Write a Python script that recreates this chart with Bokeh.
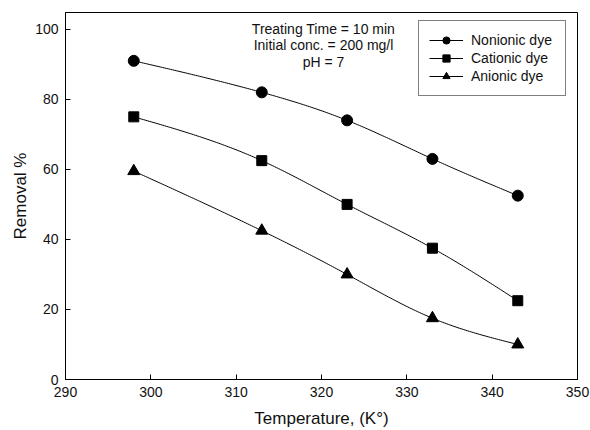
import numpy as np
from bokeh.plotting import figure
from bokeh.models import Legend, LegendItem, Label, Range1d, FixedTicker
from bokeh.embed import file_html
from bokeh.resources import INLINE

temperature = [298, 313, 323, 333, 343]
nonionic = [91, 82, 74, 63, 52.5]
cationic = [75, 62.5, 50, 37.5, 22.5]
anionic = [59.5, 42.5, 30, 17.5, 10]
x_ticks = [290, 300, 310, 320, 330, 340, 350]
y_ticks = [0, 20, 40, 60, 80, 100]
notes = ["Treating Time = 10 min", "Initial conc. = 200 mg/l", "pH = 7"]
x_title = "Temperature, (K°)"
y_title = "Removal %"


def spline(xs, ys, n=200):
    xs = np.asarray(xs, float)
    ys = np.asarray(ys, float)
    k = len(xs)
    h = np.diff(xs)
    A = np.zeros((k, k))
    b = np.zeros(k)
    A[0, 0] = 1
    A[-1, -1] = 1
    for i in range(1, k - 1):
        A[i, i - 1] = h[i - 1]
        A[i, i] = 2 * (h[i - 1] + h[i])
        A[i, i + 1] = h[i]
        b[i] = 6 * ((ys[i + 1] - ys[i]) / h[i] - (ys[i] - ys[i - 1]) / h[i - 1])
    M = np.linalg.solve(A, b)
    xx = np.linspace(xs[0], xs[-1], n)
    yy = np.empty_like(xx)
    for j, x in enumerate(xx):
        i = min(np.searchsorted(xs, x, side="right") - 1, k - 2)
        t1 = xs[i + 1] - x
        t0 = x - xs[i]
        yy[j] = (M[i] * t1 ** 3 + M[i + 1] * t0 ** 3) / (6 * h[i]) \
            + (ys[i] / h[i] - M[i] * h[i] / 6) * t1 \
            + (ys[i + 1] / h[i] - M[i + 1] * h[i] / 6) * t0
    return xx, yy


FONT = "Liberation Sans"
TXT = "#111111"

p = figure(width=590, height=430, output_backend="svg", toolbar_location=None,
           x_range=Range1d(290, 350), y_range=Range1d(0, 104.8),
           min_border_left=65, min_border_right=13, min_border_top=12, min_border_bottom=50)
p.xgrid.visible = False
p.ygrid.visible = False
p.outline_line_color = "black"
p.outline_line_width = 1
p.background_fill_color = "white"
p.border_fill_color = "white"

for ax in (p.xaxis, p.yaxis):
    ax.axis_line_color = "black"
    ax.major_tick_in = 5
    ax.major_tick_out = 0
    ax.minor_tick_in = 0
    ax.minor_tick_out = 0
    ax.major_label_text_font = FONT
    ax.major_label_text_font_size = "14px"
    ax.major_label_text_color = TXT
    ax.axis_label_text_font = FONT
    ax.axis_label_text_font_size = "17px"
    ax.axis_label_text_font_style = "normal"
    ax.axis_label_text_color = TXT

p.xaxis.ticker = FixedTicker(ticks=x_ticks)
p.yaxis.ticker = FixedTicker(ticks=y_ticks)
p.xaxis.axis_label = x_title
p.yaxis.axis_label = y_title
p.xaxis.major_label_standoff = 7
p.yaxis.major_label_standoff = 7
p.xaxis.axis_label_standoff = 9
p.xaxis.axis_label_text_line_height = 0.9
p.yaxis.axis_label_standoff = 2

items = []
for name, ys, marker, size in [("Nonionic dye", nonionic, "circle", 11),
                               ("Cationic dye", cationic, "square", 10),
                               ("Anionic dye", anionic, "triangle", 12)]:
    sx, sy = spline(temperature, ys)
    ln = p.line(sx, sy, line_color="black", line_width=1)
    sc = p.scatter(temperature, ys, marker=marker, size=size, fill_color="black", line_color="black")
    items.append(LegendItem(label=name, renderers=[ln, sc]))

legend = Legend(items=items, location=(353, 283), orientation="vertical")
legend.border_line_color = "black"
legend.border_line_width = 1
legend.label_text_font = FONT
legend.label_text_font_size = "14px"
legend.label_text_color = TXT
legend.glyph_width = 34
legend.glyph_height = 18
legend.label_height = 18
legend.label_width = 84
legend.spacing = 0
legend.padding = 10
legend.margin = 0
legend.label_standoff = 8
legend.background_fill_alpha = 1
p.add_layout(legend)

for i, t in enumerate(notes):
    p.add_layout(Label(x=258, y=351 - 16.5 * i, x_units="screen", y_units="screen", text=t,
                       text_font=FONT, text_font_size="14px", text_align="center",
                       text_baseline="middle", text_color=TXT))

open("out.html", "w").write(file_html(p, INLINE))
